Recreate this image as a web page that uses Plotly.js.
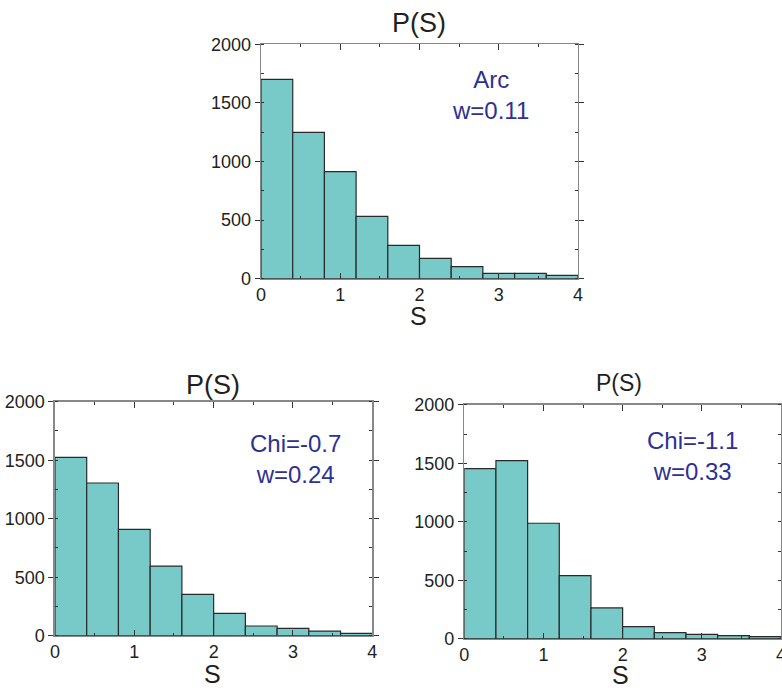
<!DOCTYPE html>
<html>
<head>
<meta charset="utf-8">
<script src="https://cdn.plot.ly/plotly-3.0.1.min.js"></script>
<style>html,body{margin:0;padding:0;background:#fff;}#chart{width:782px;height:691px;}</style>
</head>
<body>
<div id="chart"></div>
<script>
// Bin centres of S (bin width 0.4)
var binCenters = [0.2, 0.6, 1.0, 1.4, 1.8, 2.2, 2.6, 3.0, 3.4, 3.8];
// Counts per bin
var arcCounts = [1701, 1249, 913, 532, 284, 174, 102, 46, 46, 28];
var chi07Counts = [1524, 1305, 909, 595, 353, 191, 83, 63, 40, 20];
var chi11Counts = [1456, 1524, 989, 541, 265, 105, 54, 40, 28, 20];
// Panel labels
var panelTitles = ["P(S)", "P(S)", "P(S)"];
var axisTitle = "S";
var panelNotes = ["Arc<br>w=0.11", "Chi=-0.7<br>w=0.24", "Chi=-1.1<br>w=0.33"];
var xTickVals = [0, 1, 2, 3, 4];
var yTickVals = [0, 500, 1000, 1500, 2000];

var FONT = "Liberation Sans, Arial, sans-serif";
var fill = "#77CAC7";
var edge = "#2a2a2a";
var ink = "#231F20";

function barTrace(counts, xa, ya) {
  return {
    type: "bar", x: binCenters, y: counts, width: 0.4,
    xaxis: xa, yaxis: ya,
    marker: {color: fill, line: {color: edge, width: 1.2}},
    hoverinfo: "none", showlegend: false
  };
}

var data = [
  barTrace(arcCounts, "x", "y"),
  barTrace(chi07Counts, "x2", "y2"),
  barTrace(chi11Counts, "x3", "y3")
];

function xax(dom, anchor) {
  return {
    domain: dom, anchor: anchor, range: [0, 4], tickvals: xTickVals,
    ticks: "inside", ticklen: 6, tickcolor: "#333", showgrid: false, zeroline: false,
    minor: {dtick: 0.5, tick0: 0, ticks: "inside", ticklen: 3, tickcolor: "#333", showgrid: false},
    showline: true, linecolor: "#888", linewidth: 1.5, mirror: "ticks",
    tickfont: {family: FONT, size: 18, color: ink},
    ticklabeloverflow: "allow", ticklabelstandoff: -1
  };
}
function yax(dom, anchor) {
  return {
    domain: dom, anchor: anchor, range: [0, 2000], tickvals: yTickVals,
    ticks: "outside", ticklen: 5, tickcolor: "#333", showgrid: false, zeroline: false,
    minor: {dtick: 250, tick0: 0, ticks: "inside", ticklen: 3, tickcolor: "#333", showgrid: false},
    showline: true, linecolor: "#888", linewidth: 1.5, mirror: "ticks",
    tickfont: {family: FONT, size: 18, color: ink}, ticklabelstandoff: 0,
    ticklabeloverflow: "allow"
  };
}

var noteFont = {family: FONT, size: 24, color: "#2E3192"};
var titleFont = {family: FONT, size: 27, color: ink};
var sFont = {family: FONT, size: 25, color: ink};

function paperNote(text, px, py, font) {
  return {xref: "paper", yref: "paper", x: px / 782, y: 1 - py / 691, text: text,
          showarrow: false, font: font, xanchor: "center", yanchor: "middle"};
}

var layout = {
  width: 782, height: 691,
  margin: {l: 0, r: 0, t: 0, b: 0},
  paper_bgcolor: "#fff", plot_bgcolor: "#fff",
  bargap: 0,
  xaxis: xax([0.3338, 0.7391], "y"),
  yaxis: yax([0.5967, 0.9359], "x"),
  xaxis2: xax([0.0703, 0.4761], "y2"),
  yaxis2: yax([0.0800, 0.4187], "x2"),
  xaxis3: xax([0.5937, 0.9987], "y3"),
  yaxis3: yax([0.0753, 0.4139], "x3"),
  annotations: [
    paperNote(panelTitles[0], 419, 23, titleFont),
    paperNote(panelTitles[1], 213, 385, titleFont),
    paperNote(panelTitles[2], 619, 383, {family: FONT, size: 23, color: ink}),
    paperNote(axisTitle, 418, 316, sFont),
    paperNote(axisTitle, 212, 674, sFont),
    paperNote(axisTitle, 620, 675, sFont),
    {xref: "x", yref: "y", x: 2.9, y: 1567, text: panelNotes[0], showarrow: false, font: noteFont, xanchor: "center", yanchor: "middle"},
    {xref: "x2", yref: "y2", x: 3.03, y: 1508, text: panelNotes[1], showarrow: false, font: noteFont, xanchor: "center", yanchor: "middle"},
    {xref: "x3", yref: "y3", x: 2.88, y: 1564, text: panelNotes[2], showarrow: false, font: noteFont, xanchor: "center", yanchor: "middle"}
  ]
};

Plotly.newPlot("chart", data, layout, {displayModeBar: false, staticPlot: true});
</script>
</body>
</html>
